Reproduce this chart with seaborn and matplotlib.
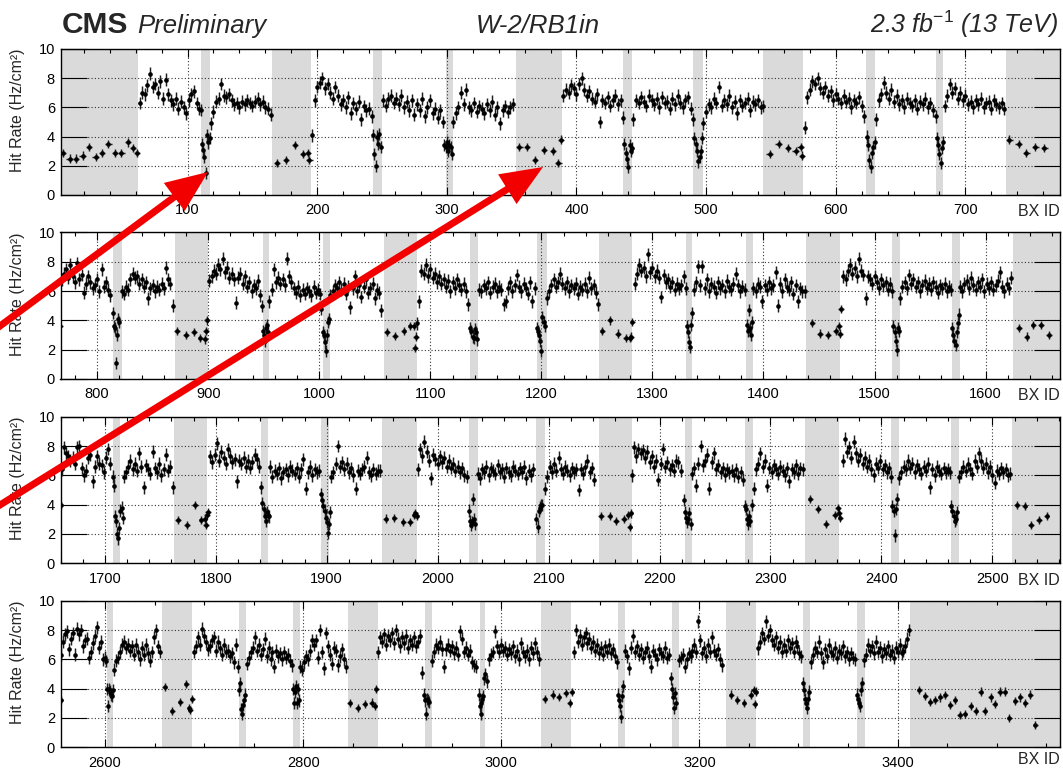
import numpy as np
import pandas as pd
import matplotlib
matplotlib.use("Agg")
import matplotlib.pyplot as plt
import seaborn as sns
from matplotlib.ticker import MultipleLocator

sns.set_theme(style="ticks")
plt.rcParams["font.family"] = ["Liberation Sans", "DejaVu Sans"]
plt.rcParams["mathtext.fontset"] = "custom"
plt.rcParams["mathtext.it"] = "Liberation Sans:italic"
plt.rcParams["mathtext.rm"] = "Liberation Sans"
plt.rcParams["mathtext.default"] = "it"

# ---------------- data (BX ID, hit rate in Hz/cm^2) ----------------
TRAIN_STEP = 2   # train values listed every 2nd BX

# ---- panel 1 ----
p1_shade = [(0, 62), (110, 117), (165, 195), (243, 250), (299, 305), (353, 389), (436, 443),
            (490, 498), (544, 575), (623, 630), (677, 683), (731, 780)]
p1_train_start = [63, 118, 196, 251, 305, 390, 444, 498, 576, 631, 684]
p1_train_vals = [
    [6.3, 7.0, 6.9, 7.5, 8.3, 7.4, 7.6, 7.0, 7.8, 6.6, 7.9, 6.9, 6.5, 6.2, 6.6, 5.9, 6.4, 6.0, 5.6, 6.5, 6.9, 7.1, 6.3, 5.9],
    [4.9, 5.7, 6.4, 6.6, 7.6, 6.8, 6.7, 6.9, 6.5, 6.2, 6.3, 6.0, 6.4, 6.2, 6.5, 6.3, 6.1, 6.4, 6.6, 6.2, 6.4, 6.0, 5.9, 5.5],
    [4.1, 6.5, 7.4, 7.7, 8.0, 7.3, 7.6, 7.0, 6.6, 7.4, 6.8, 6.2, 6.5, 6.0, 6.7, 5.6, 6.3, 5.9, 6.4, 5.2, 6.1, 5.8, 5.9, 5.4],
    [6.5, 6.1, 6.6, 6.8, 6.3, 6.6, 6.2, 6.8, 6.0, 6.4, 5.8, 6.5, 5.5, 6.2, 5.8, 6.6, 5.4, 6.0, 6.5, 5.6, 5.9, 5.3, 5.8, 5.0],
    [5.0, 5.6, 6.0, 7.0, 6.2, 7.2, 6.0, 5.8, 6.3, 5.7, 6.1, 5.9, 5.6, 6.2, 5.8, 6.4, 5.5, 6.0, 4.9, 5.8, 6.1, 5.7, 6.0, 6.2],
    [6.8, 7.2, 7.0, 7.5, 7.3, 6.9, 7.6, 8.0, 7.2, 6.8, 7.1, 6.6, 6.4, 6.9, 5.0, 6.5, 6.3, 6.7, 6.1, 6.5, 6.8, 6.2, 6.5, 5.3],
    [5.2, 6.5, 6.3, 6.7, 6.4, 6.1, 6.8, 6.5, 6.2, 6.6, 6.0, 6.7, 6.3, 6.4, 5.9, 6.6, 6.2, 6.8, 6.3, 6.0, 6.5, 6.7, 5.9, 5.2],
    [4.9, 5.7, 6.2, 6.0, 6.6, 6.3, 7.4, 6.1, 6.5, 6.2, 6.8, 6.0, 6.4, 5.6, 6.5, 6.1, 6.3, 6.6, 5.8, 6.4, 6.2, 6.5, 6.0, 6.1],
    [4.6, 6.7, 7.2, 7.8, 7.6, 8.0, 7.3, 7.0, 7.4, 6.8, 7.1, 6.5, 6.9, 6.6, 6.3, 6.8, 6.4, 6.6, 6.0, 6.5, 6.3, 6.7, 6.1, 5.4],
    [5.2, 6.5, 6.9, 7.7, 7.0, 6.6, 7.2, 6.4, 6.8, 6.2, 6.5, 6.0, 6.6, 6.3, 6.1, 6.5, 5.9, 6.4, 6.2, 6.6, 6.0, 6.3, 5.8, 5.4],
    [6.1, 6.8, 7.6, 7.0, 7.3, 6.6, 7.0, 6.5, 6.8, 6.2, 6.4, 6.0, 6.5, 6.2, 6.6, 6.0, 6.3, 6.4, 5.9, 6.5, 6.2, 6.0, 6.3, 5.9],
]
p1_dip_start = [110, 243, 298, 437, 491, 624, 678]
p1_dip_vals = [
    [5.8, 3.5, 3.1, 2.6, 1.5, 4.1, 3.6, 3.9],
    [4.1, 2.8, 2.0, 4.0, 3.5, 4.2, 3.3],
    [3.4, 3.3, 3.6, 3.0, 3.4, 3.3, 2.8],
    [3.5, 2.9, 2.5, 1.9, 3.4, 3.0, 3.2],
    [3.9, 3.5, 3.0, 2.3, 2.6, 3.0, 3.9],
    [4.0, 3.4, 2.4, 1.9, 2.9, 3.3, 3.6],
    [3.9, 3.4, 2.8, 2.2, 3.2, 3.6],
]
p1_gap_bx = [4, 9, 14, 19, 24, 29, 34, 39, 44, 49, 54, 58, 61, 169, 176, 183, 189, 193, 194,
             356, 362, 368, 375, 382, 386, 388, 549, 556, 563, 569, 573, 574, 734, 741, 747, 754, 761]
p1_gap_rate = [2.9, 2.5, 2.5, 2.7, 3.3, 2.6, 2.9, 3.5, 2.9, 2.9, 3.6, 3.2, 2.9, 2.2, 2.4, 3.4, 2.8, 2.9, 2.4,
               3.3, 3.3, 2.4, 3.1, 3.0, 2.2, 3.8, 2.8, 3.5, 3.2, 3.0, 3.3, 2.7, 3.8, 3.5, 2.9, 3.3, 3.2]

# ---- panel 2 ----
p2_shade = [(814, 822), (870, 900), (949, 955), (1003, 1010), (1058, 1088), (1136, 1143), (1196, 1205),
            (1252, 1282), (1330, 1336), (1384, 1391), (1438, 1469), (1516, 1523), (1570, 1577), (1625, 1700)]
p2_train_start = [768, 822, 901, 955, 1010, 1088, 1144, 1205, 1284, 1337, 1391, 1472, 1523, 1577]
p2_train_vals = [
    [6.8, 7.2, 7.5, 6.9, 7.8, 7.0, 6.6, 7.9, 6.8, 7.1, 5.9, 6.5, 7.0, 6.6, 6.2, 6.4, 6.8, 6.0, 7.5, 6.3, 6.6, 6.1, 5.7],
    [6.0, 5.8, 6.3, 6.1, 6.8, 7.2, 6.9, 7.0, 6.5, 6.8, 6.3, 6.6, 5.5, 6.2, 6.4, 6.0, 6.3, 6.1, 6.5, 6.2, 7.6, 6.8, 6.5, 5.0],
    [6.7, 7.0, 7.4, 7.2, 7.8, 7.5, 8.2, 7.3, 7.6, 6.9, 7.2, 6.8, 5.2, 6.9, 7.2, 6.5, 7.0, 6.3, 6.6, 6.0, 6.4, 6.2, 6.7, 5.7],
    [5.3, 6.1, 7.5, 6.6, 6.9, 6.5, 6.8, 6.4, 8.2, 7.0, 6.6, 6.2, 5.9, 6.3, 5.7, 6.1, 5.8, 6.2, 6.0, 5.7, 6.3, 5.9, 6.1, 5.8],
    [5.7, 6.0, 6.4, 6.2, 6.6, 6.1, 6.5, 5.8, 6.3, 4.9, 6.2, 7.0, 6.0, 6.4, 5.6, 6.3, 6.8, 5.9, 6.2, 6.5, 5.5, 6.1, 5.9, 4.7],
    [3.8, 5.3, 7.4, 7.2, 7.8, 7.0, 7.5, 6.9, 7.2, 6.6, 7.0, 6.5, 6.8, 6.3, 6.7, 6.0, 6.6, 6.2, 6.8, 6.4, 6.1, 6.5, 6.0, 5.1],
    [6.1, 6.0, 6.4, 6.2, 6.6, 5.9, 6.3, 6.5, 6.0, 6.3, 6.1, 5.1, 5.3, 6.2, 6.6, 6.0, 6.4, 7.1, 6.3, 6.0, 6.5, 6.2, 5.8, 6.6, 5.3, 6.2],
    [5.5, 6.0, 6.4, 6.8, 6.3, 6.6, 7.2, 6.5, 6.2, 6.6, 6.0, 6.4, 6.2, 6.5, 5.8, 6.3, 6.1, 6.5, 6.0, 6.9, 6.2, 6.4, 5.9, 5.1],
    [6.5, 7.2, 7.8, 7.4, 7.6, 7.0, 8.5, 7.3, 7.6, 7.0, 7.4, 6.9, 5.6, 7.1, 6.6, 6.8, 6.3, 6.6, 6.1, 6.5, 6.2, 6.4, 7.0, 6.2],
    [6.1, 6.6, 7.7, 6.4, 7.7, 6.2, 6.8, 6.0, 6.5, 6.3, 5.9, 6.6, 6.2, 6.4, 6.0, 6.7, 6.3, 6.1, 6.5, 7.2, 6.4, 6.0, 6.3, 6.1],
    [6.2, 6.0, 6.5, 6.3, 5.3, 6.4, 6.1, 6.6, 6.2, 6.4, 7.3, 5.0, 6.5, 6.0, 6.8, 6.3, 6.1, 6.6, 5.8, 6.4, 5.3, 6.2, 6.0, 6.0],
    [7.0, 6.8, 7.4, 7.8, 7.2, 7.6, 7.0, 8.2, 7.4, 7.1, 5.5, 7.0, 6.8, 6.5, 7.0, 6.6, 6.2, 6.8, 6.4, 6.6, 6.1, 6.5, 6.0],
    [5.5, 6.3, 6.6, 6.2, 7.1, 6.5, 6.8, 6.3, 6.6, 6.0, 6.4, 6.7, 6.2, 6.5, 6.1, 6.6, 6.3, 5.9, 6.4, 6.2, 6.5, 6.0, 6.3, 6.1],
    [6.3, 6.0, 6.5, 6.7, 6.2, 6.9, 6.4, 6.1, 6.6, 6.3, 6.8, 6.0, 6.5, 6.2, 6.6, 6.1, 6.4, 6.7, 7.3, 6.3, 6.0, 6.5, 6.2, 6.9],
]
p2_dip_start = [814, 948, 1002, 1136, 1196, 1331, 1385, 1517, 1570]
p2_dip_vals = [
    [4.5, 3.6, 3.5, 1.1, 3.0, 4.1, 3.9],
    [5.0, 3.3, 3.0, 2.6, 3.5, 3.7, 3.2],
    [4.8, 3.2, 3.0, 2.5, 1.9, 3.0, 3.9, 4.1],
    [3.5, 3.3, 2.9, 2.8, 3.4, 3.2, 2.7],
    [3.5, 3.3, 3.0, 2.6, 1.9, 4.2, 3.9, 3.6],
    [3.6, 3.2, 2.5, 2.2, 3.7, 4.5],
    [3.7, 3.3, 4.7, 3.5, 3.0, 3.9],
    [3.6, 3.2, 2.6, 2.0, 3.5, 3.3],
    [3.5, 3.0, 2.6, 2.3, 3.2, 3.8, 4.4],
]
p2_gap_bx = [767, 872, 880, 887, 893, 897, 898, 899, 1061, 1068, 1076, 1082, 1085, 1086, 1087,
             1255, 1262, 1269, 1276, 1280, 1281, 1282, 1444, 1451, 1458, 1465, 1468, 1469, 1470,
             1630, 1637, 1643, 1650, 1657]
p2_gap_rate = [3.6, 3.3, 3.0, 3.2, 2.8, 2.7, 3.3, 4.0, 3.2, 2.95, 3.3, 3.6, 3.6, 2.1, 2.9,
               3.3, 4.0, 3.1, 2.8, 2.8, 2.9, 3.9, 3.8, 3.1, 3.0, 3.3, 3.6, 3.1, 4.8,
               3.5, 2.9, 3.7, 3.7, 3.0]

# ---- panel 3 ----
p3_shade = [(1707, 1714), (1762, 1792), (1841, 1847), (1895, 1902), (1950, 1981), (2028, 2036), (2089, 2097),
            (2145, 2175), (2223, 2229), (2277, 2284), (2331, 2362), (2409, 2416), (2463, 2470), (2518, 2600)]
p3_train_start = [1661, 1717, 1795, 1849, 1904, 1982, 2036, 2097, 2175, 2229, 2285, 2365, 2416, 2470]
p3_train_vals = [
    [6.4, 7.9, 7.5, 7.3, 7.0, 7.2, 6.8, 7.9, 8.0, 6.5, 6.0, 6.3, 7.2, 7.4, 5.6, 6.6, 7.3, 6.8, 6.7, 6.2, 7.2, 7.8, 6.8, 5.9],
    [5.9, 6.2, 6.6, 7.0, 6.4, 6.8, 6.3, 7.5, 6.6, 5.2, 6.7, 6.4, 6.1, 7.6, 6.5, 6.2, 6.8, 6.0, 6.4, 7.4, 6.3, 6.6, 5.2],
    [7.3, 6.9, 7.4, 8.2, 7.0, 7.6, 7.2, 6.8, 7.8, 7.3, 6.9, 7.1, 5.6, 7.0, 6.8, 7.2, 6.6, 7.0, 6.5, 6.9, 7.4, 7.1, 6.6, 5.2],
    [6.6, 5.9, 6.3, 6.1, 6.5, 5.8, 6.2, 6.4, 6.0, 6.6, 6.3, 6.1, 6.5, 5.9, 6.4, 7.1, 5.1, 6.2, 6.6, 6.0, 6.4, 6.2, 6.3],
    [5.9, 6.2, 6.8, 8.0, 6.6, 6.9, 6.4, 6.8, 6.2, 6.5, 6.0, 5.1, 6.3, 6.1, 6.4, 6.6, 7.2, 6.2, 6.0, 6.4, 6.1, 6.3, 6.3],
    [6.4, 7.8, 7.3, 8.3, 7.6, 7.0, 5.8, 7.4, 7.1, 6.8, 7.3, 6.9, 7.2, 6.6, 7.0, 6.5, 6.8, 6.3, 6.6, 6.2, 6.5, 6.0, 5.9],
    [6.1, 5.8, 6.4, 6.2, 6.6, 6.0, 6.5, 6.3, 6.1, 6.7, 6.2, 6.4, 5.9, 6.5, 6.2, 6.0, 6.6, 6.3, 6.1, 6.5, 6.2, 6.6, 5.8, 6.3, 6.0, 6.4],
    [5.1, 5.9, 6.6, 6.2, 6.8, 6.3, 7.2, 6.4, 6.1, 6.6, 6.3, 6.0, 6.5, 6.2, 6.4, 5.0, 6.4, 6.1, 6.6, 7.0, 6.2, 6.5, 5.7],
    [6.0, 7.9, 7.3, 7.8, 7.5, 7.7, 7.2, 7.6, 6.9, 7.3, 6.6, 7.0, 5.7, 6.8, 7.8, 6.6, 6.9, 6.4, 6.7, 6.3, 7.0, 6.9, 6.3],
    [6.1, 6.5, 5.3, 6.8, 8.0, 6.7, 7.0, 7.4, 5.1, 6.9, 7.5, 6.4, 6.7, 6.2, 6.5, 6.0, 6.4, 6.2, 6.3, 6.0, 6.4, 5.9, 6.2, 5.7],
    [5.1, 6.4, 6.8, 7.5, 6.6, 7.0, 5.3, 6.5, 6.2, 6.7, 6.4, 6.1, 6.6, 6.3, 6.0, 6.5, 5.6, 6.4, 6.2, 6.7, 6.1, 6.5, 6.4],
    [7.0, 8.5, 7.6, 7.9, 7.2, 8.3, 7.5, 7.0, 7.4, 6.8, 7.2, 6.6, 7.0, 6.4, 6.0, 6.8, 6.5, 7.0, 6.4, 6.7, 6.2, 6.5, 5.9],
    [5.8, 6.2, 6.6, 6.4, 7.0, 6.5, 6.8, 6.2, 6.7, 6.4, 6.1, 6.6, 6.3, 6.8, 5.2, 6.4, 6.0, 6.6, 6.3, 6.1, 6.5, 6.2, 6.4, 6.2],
    [5.9, 6.2, 6.6, 6.3, 6.8, 6.4, 6.1, 7.0, 6.6, 7.5, 7.0, 6.5, 6.8, 6.2, 6.6, 6.0, 5.5, 6.3, 6.1, 6.5, 6.2, 6.4, 6.0, 6.1],
]
p3_dip_start = [1708, 1842, 1895, 2028, 2089, 2222, 2277, 2410, 2463]
p3_dip_vals = [
    [5.3, 3.2, 2.9, 2.0, 1.7, 2.4, 3.6, 3.8, 3.1],
    [4.1, 3.7, 3.2, 2.9, 3.5, 3.3, 3.2],
    [4.7, 4.3, 3.9, 3.6, 3.1, 2.8, 2.1, 2.7, 3.5],
    [3.6, 2.9, 2.6, 2.8, 4.4, 3.0, 2.7],
    [3.0, 2.5, 3.6, 3.8, 4.0, 4.0],
    [4.3, 3.5, 3.1, 2.8, 3.0, 3.4, 2.7],
    [3.9, 3.7, 3.0, 2.7, 3.2, 2.9, 4.0],
    [3.9, 3.6, 1.9, 3.7, 4.4],
    [3.9, 3.6, 3.2, 2.9, 3.0, 3.5],
]
p3_gap_bx = [1660, 1766, 1774, 1781, 1787, 1790, 1791, 1792, 1793, 1953, 1961, 1969, 1975, 1979, 1980, 1981,
             2147, 2155, 2161, 2168, 2172, 2173, 2174, 2336, 2343, 2350, 2358, 2361, 2362, 2363,
             2522, 2529, 2535, 2542, 2549]
p3_gap_rate = [4.0, 2.95, 2.6, 4.0, 2.95, 3.0, 2.6, 3.3, 3.5, 3.05, 3.1, 2.8, 2.8, 3.3, 3.4, 3.2,
               3.2, 3.2, 2.9, 3.0, 3.3, 2.5, 3.4, 4.4, 3.7, 2.7, 3.3, 3.75, 3.4, 3.1,
               4.0, 3.9, 2.6, 2.95, 3.25]

# ---- panel 4 ----
p4_shade = [(2602, 2608), (2657, 2688), (2735, 2742), (2790, 2797), (2845, 2876), (2923, 2930), (2978, 2984),
            (3040, 3070), (3118, 3125), (3172, 3179), (3227, 3257), (3305, 3312), (3359, 3367), (3413, 3600)]
p4_train_start = [2556, 2609, 2690, 2743, 2797, 2876, 2930, 2986, 3073, 3125, 3179, 3259, 3313, 3366]
p4_train_vals = [
    [6.3, 7.2, 7.7, 7.9, 6.7, 7.4, 7.8, 6.3, 8.1, 7.7, 8.0, 6.9, 7.3, 7.4, 6.1, 6.5, 7.1, 7.6, 8.2, 6.8, 7.2, 6.0, 6.1],
    [5.3, 5.9, 6.1, 6.5, 7.0, 7.2, 6.8, 7.0, 6.6, 6.9, 6.3, 7.0, 6.5, 6.0, 6.8, 6.3, 7.0, 6.4, 5.9, 6.5, 7.5, 8.0, 6.9, 6.5],
    [6.5, 6.9, 7.5, 7.0, 8.1, 7.6, 7.2, 6.7, 6.9, 7.3, 7.5, 6.6, 7.2, 6.8, 6.3, 7.0, 6.5, 6.6, 6.2, 6.4, 5.8, 7.0, 5.5],
    [5.7, 6.1, 6.5, 6.8, 7.5, 6.6, 7.0, 6.3, 6.7, 7.4, 6.2, 6.8, 6.0, 6.5, 5.5, 6.6, 6.2, 6.4, 6.0, 6.5, 6.1, 6.3, 5.9, 5.6],
    [5.5, 5.3, 5.8, 6.2, 6.0, 6.6, 7.3, 7.0, 7.3, 6.1, 8.0, 6.5, 5.4, 7.8, 6.9, 6.3, 5.7, 6.8, 6.6, 5.6, 6.2, 6.7, 6.0, 5.5],
    [6.5, 7.5, 7.2, 7.7, 7.0, 7.6, 7.3, 7.8, 7.1, 8.0, 7.4, 6.9, 7.5, 7.1, 7.6, 6.8, 7.3, 7.0, 7.5, 6.9, 7.2, 7.6, 5.1],
    [5.9, 6.5, 7.0, 6.8, 7.2, 6.7, 5.5, 6.7, 7.0, 6.6, 6.9, 6.4, 6.8, 6.3, 7.9, 7.4, 6.5, 6.8, 6.3, 6.6, 5.8, 5.6, 5.5],
    [4.5, 6.0, 6.3, 6.5, 7.9, 6.9, 6.5, 7.0, 6.6, 6.8, 6.3, 6.7, 6.4, 6.9, 6.2, 6.6, 6.0, 7.1, 6.5, 6.2, 6.6, 6.0, 6.8, 6.4, 7.1, 6.5, 6.0],
    [6.5, 8.0, 7.2, 7.6, 7.0, 7.5, 7.8, 7.1, 7.4, 6.8, 7.2, 6.6, 7.0, 6.4, 6.8, 6.3, 6.9, 6.5, 7.0, 6.4, 6.7, 6.2, 5.8],
    [6.6, 6.2, 5.4, 6.8, 7.6, 6.5, 6.9, 6.3, 6.7, 6.1, 6.5, 6.8, 6.2, 5.5, 6.6, 6.3, 6.0, 6.7, 6.4, 6.2, 6.8, 6.1, 6.3],
    [5.95, 6.1, 6.3, 5.5, 6.0, 6.4, 6.2, 6.6, 7.0, 6.5, 8.6, 7.3, 6.4, 6.8, 6.2, 7.0, 6.5, 7.5, 6.6, 6.3, 6.7, 6.0, 5.6],
    [6.75, 7.2, 7.8, 7.4, 8.6, 7.6, 8.0, 7.3, 7.0, 7.5, 6.8, 7.2, 6.5, 7.0, 6.6, 7.3, 6.8, 7.1, 6.5, 7.2, 6.9, 6.4, 6.2],
    [5.8, 6.3, 6.8, 6.5, 7.2, 6.4, 5.8, 6.7, 6.2, 7.0, 6.5, 6.3, 6.8, 6.1, 6.6, 6.4, 6.9, 6.2, 6.5, 6.0, 6.4, 6.1, 6.0],
    [5.95, 6.3, 7.0, 6.6, 6.9, 6.4, 7.2, 6.5, 6.8, 6.2, 6.7, 6.4, 6.9, 6.3, 6.6, 6.1, 6.8, 6.5, 7.0, 6.4, 6.6, 6.9, 7.4, 8.0],
]
p4_dip_start = [2601, 2735, 2790, 2922, 2977, 3118, 3171, 3305, 3359]
p4_dip_vals = [
    [5.9, 4.0, 2.8, 4.0, 3.8, 3.6, 3.5, 3.9],
    [3.9, 4.4, 2.6, 2.3, 2.9, 3.2, 3.6],
    [4.0, 3.0, 3.8, 4.2, 3.0, 4.0, 3.2],
    [3.6, 3.2, 2.3, 3.3, 3.2, 3.1],
    [3.6, 2.8, 2.3, 3.0, 3.3, 3.5, 4.7, 5.0],
    [3.6, 3.2, 2.8, 2.1, 3.5, 4.2],
    [4.7, 4.0, 3.4, 2.7, 3.7, 3.0],
    [4.4, 3.9, 3.3, 3.0, 2.7, 3.3, 3.8],
    [3.6, 3.3, 3.0, 2.8, 3.9, 4.4],
]
p4_gap_bx = [2555, 2660, 2668, 2676, 2682, 2685, 2686, 2688, 2847, 2855, 2862, 2869, 2872, 2874,
             3044, 3052, 3058, 3065, 3069, 3071, 3232, 3238, 3245, 3252, 3255, 3256, 3257,
             3422, 3428, 3433, 3438, 3443, 3448, 3453, 3458, 3463, 3468, 3474, 3479, 3484, 3488,
             3494, 3498, 3503, 3508, 3513, 3519, 3524, 3529, 3534, 3539]
p4_gap_rate = [3.2, 4.1, 2.5, 3.1, 4.3, 2.7, 2.55, 3.3, 3.0, 2.7, 2.95, 3.05, 2.8, 4.0,
               3.3, 3.6, 3.45, 3.7, 3.0, 3.75, 3.6, 3.2, 3.0, 3.6, 3.9, 2.95, 3.8,
               3.9, 3.5, 3.1, 3.2, 3.4, 3.55, 2.9, 3.2, 2.2, 2.25, 2.8, 2.5, 3.8, 2.45,
               3.4, 2.95, 3.8, 3.8, 2.0, 3.15, 3.4, 3.0, 3.6, 1.5]

panel_xlim = [(2, 773), (767, 1667), (1660, 2561), (2555, 3564)]
panel_major = [100, 100, 100, 200]
panel_minor = [20, 20, 20, 50]

panels = [
    (p1_shade, p1_train_start, p1_train_vals, p1_dip_start, p1_dip_vals, p1_gap_bx, p1_gap_rate),
    (p2_shade, p2_train_start, p2_train_vals, p2_dip_start, p2_dip_vals, p2_gap_bx, p2_gap_rate),
    (p3_shade, p3_train_start, p3_train_vals, p3_dip_start, p3_dip_vals, p3_gap_bx, p3_gap_rate),
    (p4_shade, p4_train_start, p4_train_vals, p4_dip_start, p4_dip_vals, p4_gap_bx, p4_gap_rate),
]


def expand(starts, vals, step):
    bx, r = [], []
    for s, v in zip(starts, vals):
        for k, y in enumerate(v):
            bx.append(s + step * k)
            r.append(y)
    return bx, r


def panel_frame(p):
    shade, ts, tv, ds, dv, gb, gr = p
    tb, trr = expand(ts, tv, TRAIN_STEP)
    db, drr = expand(ds, dv, 1)
    frames = [
        pd.DataFrame({"bx": tb, "rate": trr, "xerr": 0.9, "yerr": 0.44}),
        pd.DataFrame({"bx": db, "rate": drr, "xerr": 0.5, "yerr": 0.42}),
        pd.DataFrame({"bx": gb, "rate": gr, "xerr": 2.5, "yerr": 0.28}),
    ]
    return pd.concat(frames, ignore_index=True)


# ---------------- figure ----------------
W, H = 1063, 769
fig = plt.figure(figsize=(W / 100, H / 100), dpi=100)
fig.patch.set_facecolor("white")

ax_left, ax_right = 60.5, 1060
tops = [49, 232.5, 416.7, 600.7]
bots = [195, 379, 563.3, 747.3]
bxid_y = [-0.115, -0.115, -0.115, -0.085]

for i, p in enumerate(panels):
    ax = fig.add_axes([ax_left / W, 1 - bots[i] / H, (ax_right - ax_left) / W, (bots[i] - tops[i]) / H])
    df = panel_frame(p)
    for lo, hi in p[0]:
        ax.axvspan(lo, hi, color="#dadada", lw=0, zorder=0.2)
    ax.errorbar(df["bx"], df["rate"], xerr=df["xerr"], yerr=df["yerr"], fmt="none",
                ecolor="#1e1e1e", elinewidth=1.05, capsize=0, zorder=2)
    sns.scatterplot(data=df, x="bx", y="rate", ax=ax, s=11, color="black",
                    linewidth=0, legend=False, zorder=3)
    ax.set_xlim(*panel_xlim[i])
    ax.set_ylim(0, 10)
    ax.set_xlabel("")
    ax.set_ylabel("Hit Rate (Hz/cm²)", fontsize=11.5, loc="top")
    ax.yaxis.set_label_coords(-0.036, 1.0)
    ax.xaxis.set_major_locator(MultipleLocator(panel_major[i]))
    ax.xaxis.set_minor_locator(MultipleLocator(panel_minor[i]))
    ax.yaxis.set_major_locator(MultipleLocator(2))
    ax.set_axisbelow(True)
    ax.grid(True, which="major", linestyle=(0, (1, 2)), color="#333333", linewidth=0.8)
    ax.tick_params(which="both", direction="in", top=True, right=True, colors="black",
                   labelsize=10.5, width=0.8)
    ax.tick_params(axis="x", which="major", length=6, pad=6)
    ax.tick_params(axis="x", which="minor", length=3)
    ax.tick_params(axis="y", which="major", length=19, pad=4)
    for sp in ax.spines.values():
        sp.set_color("black")
        sp.set_linewidth(1.0)
    ax.text(1.0, bxid_y[i], "BX ID", transform=ax.transAxes, ha="right", va="center", fontsize=11.5)

# header
fig.text(62 / W, 1 - 33 / H, "CMS", fontsize=21.5, weight="bold", ha="left", va="baseline")
fig.text(137 / W, 1 - 33 / H, "Preliminary", fontsize=18.5, style="italic", ha="left", va="baseline")
fig.text(538 / W, 1 - 33 / H, "W-2/RB1in", fontsize=18.5, style="italic", ha="center", va="baseline")
fig.text(1058 / W, 1 - 33 / H, "2.3 fb$^{-1}$ (13 TeV)", fontsize=18, style="italic",
         ha="right", va="baseline")

# red annotation arrows (pixel coordinates of the figure)
ov = fig.add_axes([0, 0, 1, 1], zorder=10)
ov.set_xlim(0, W)
ov.set_ylim(H, 0)
ov.axis("off")
ov.patch.set_alpha(0)
arrow_tail = [(-10, 333.4), (-10, 511.2)]
arrow_tip = [(208, 172), (543, 167)]
for (x0, y0), (x1, y1) in zip(arrow_tail, arrow_tip):
    ov.arrow(x0, y0, x1 - x0, y1 - y0, width=7, head_width=35, head_length=42,
             length_includes_head=True, fc="#f20000", ec="none")

fig.savefig("out.png", dpi=100)
